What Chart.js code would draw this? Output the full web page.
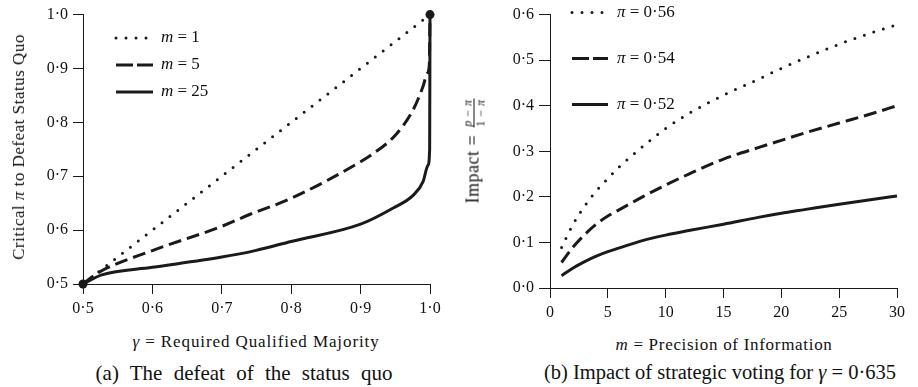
<!DOCTYPE html>
<html lang="en">
<head>
<meta charset="UTF-8" />
<title>Critical pi and impact of strategic voting</title>
<script src="https://cdn.jsdelivr.net/npm/chart.js"></script>
<style>
  body { margin: 0; width: 918px; height: 387px; background: #fff; font-family: "Liberation Serif", serif; color: #111; position: relative; overflow: hidden; }
  .box { position: absolute; top: 0; height: 330px; }
  .txt { position: absolute; white-space: nowrap; transform: translate(-50%, -50%); font-size: 17px; letter-spacing: 0.5px; pointer-events: none; }
  .rot { transform: translate(-50%, -50%) rotate(-90deg); }
  .cap { font-size: 21px; letter-spacing: 0; }
  .frac { display: inline-block; vertical-align: middle; text-align: center; font-size: 12px; line-height: 1; letter-spacing: 0.5px; margin-left: 2px; }
  .frac span { display: block; padding: 0 1px; }
  .frac .num { border-bottom: 1px solid #111; }
</style>
</head>
<body>
<div class="box" style="left:0;width:460px"><canvas id="left"></canvas></div>
<div class="box" style="left:460px;width:458px"><canvas id="right"></canvas></div>

<div class="txt rot" style="left:19px;top:147px">Critical <i>π</i> to Defeat Status Quo</div>
<div class="txt" style="left:256px;top:342px;letter-spacing:0.9px"><i>γ</i> = Required Qualified Majority</div>
<div class="txt cap" style="left:244px;top:373px;word-spacing:6px">(a) The defeat of the status quo</div>

<div class="txt rot" style="left:474px;top:151px;font-size:18px">Impact = <span class="frac"><span class="num"><i>p</i> − <i>π</i></span><span>1 − <i>π</i></span></span></div>
<div class="txt" style="left:724px;top:345px;letter-spacing:0.7px"><i>m</i> = Precision of Information</div>
<div class="txt cap" style="left:720px;top:372px;font-size:20.5px">(b) Impact of strategic voting for <i>γ</i> = 0·635</div>

<script>
  // (a) critical pi against required majority gamma
  const gammaM1 = [0.5, 1.0];
  const piM1 = [0.5, 1.0];
  const gammaM5 = [0.5, 0.522, 0.6, 0.7, 0.74, 0.8, 0.9, 0.918, 0.95, 0.976, 0.99, 0.996, 0.999, 1.0];
  const piM5 = [0.5, 0.521, 0.562, 0.607, 0.629, 0.659, 0.727, 0.742, 0.776, 0.824, 0.867, 0.891, 0.906, 1.0];
  const gammaM25 = [0.5, 0.527, 0.6, 0.7, 0.748, 0.8, 0.9, 0.947, 0.976, 0.99, 0.997, 0.9995, 1.0];
  const piM25 = [0.5, 0.517, 0.531, 0.55, 0.562, 0.579, 0.611, 0.641, 0.665, 0.69, 0.72, 0.75, 1.0];
  const endGamma = [0.5, 1.0];
  const endPi = [0.5, 1.0];
  const leftLabels = ['m = 1', 'm = 5', 'm = 25'];

  // (b) impact against precision m
  const precision = [1, 2, 3, 4, 5, 6, 8, 10, 12, 15, 18, 20, 22, 25, 28, 30];
  const impact56 = [0.089, 0.14, 0.18, 0.213, 0.24, 0.266, 0.31, 0.35, 0.383, 0.423, 0.458, 0.482, 0.504, 0.535, 0.562, 0.578];
  const impact54 = [0.056, 0.09, 0.117, 0.14, 0.158, 0.172, 0.20, 0.226, 0.25, 0.283, 0.308, 0.324, 0.34, 0.362, 0.384, 0.40];
  const impact52 = [0.027, 0.044, 0.058, 0.07, 0.08, 0.088, 0.104, 0.116, 0.126, 0.14, 0.155, 0.164, 0.172, 0.184, 0.195, 0.202];
  const rightLabels = ['π = 0·56', 'π = 0·54', 'π = 0·52'];

  const ink = '#1a1a1a';
  const font = 'Liberation Serif';
  const pts = (xs, ys) => xs.map((x, i) => ({ x, y: ys[i] }));
  const fmt1 = v => v.toFixed(1).replace('.', '·');

  const styles = [
    { borderDash: [0, 10], borderCapStyle: 'round' },
    { borderDash: [13, 6], borderCapStyle: 'butt' },
    { borderDash: [], borderCapStyle: 'butt' }
  ];
  const legendDash = [[0, 10], [17, 4], []];

  function curve(label, data, i) {
    return Object.assign({
      label, data, showLine: true, borderColor: ink, borderWidth: 3,
      pointRadius: 0, cubicInterpolationMode: 'monotone', clip: false
    }, styles[i]);
  }

  const insideLegend = {
    id: 'insideLegend',
    afterDatasetsDraw(chart, args, opts) {
      const ctx = chart.ctx;
      chart.data.datasets.forEach((ds, i) => {
        if (!ds.label) return;
        const y = opts.y + i * opts.gap;
        ctx.save();
        ctx.strokeStyle = ds.borderColor;
        ctx.lineWidth = ds.borderWidth;
        ctx.lineCap = ds.borderCapStyle;
        ctx.setLineDash(legendDash[i]);
        ctx.beginPath();
        ctx.moveTo(opts.x, y);
        ctx.lineTo(opts.x + opts.len, y);
        ctx.stroke();
        ctx.setLineDash([]);
        ctx.fillStyle = '#111';
        ctx.textBaseline = 'middle';
        let tx = opts.x + opts.len + opts.pad;
        ctx.font = 'italic 17px "' + font + '"';
        ctx.fillText(ds.label[0], tx, y);
        tx += ctx.measureText(ds.label[0]).width;
        ctx.font = '17px "' + font + '"';
        ctx.fillText(ds.label.slice(1), tx, y);
        ctx.restore();
      });
    }
  };

  function axis(min, max, step, fmt, size, tick) {
    return {
      type: 'linear', min, max,
      afterFit: s => { if (s.isHorizontal()) s.height = size; else s.width = size; },
      border: { color: ink, width: 1 },
      grid: { drawOnChartArea: false, tickLength: tick, color: ink },
      ticks: { stepSize: step, padding: 5, color: '#111', maxRotation: 0, font: { family: font, size: 16 }, callback: fmt }
    };
  }

  new Chart(document.getElementById('left'), {
    type: 'scatter',
    data: {
      datasets: [
        curve(leftLabels[0], pts(gammaM1, piM1), 0),
        curve(leftLabels[1], pts(gammaM5, piM5), 1),
        curve(leftLabels[2], pts(gammaM25, piM25), 2),
        { data: pts(endGamma, endPi), pointRadius: 4.5, pointBackgroundColor: ink, pointBorderWidth: 0, clip: false }
      ]
    },
    options: {
      responsive: true, maintainAspectRatio: false, animation: false, events: [],
      layout: { padding: { top: 10, right: 30, left: 0, bottom: 0 } },
      scales: {
        x: axis(0.5, 1.0, 0.1, fmt1, 46, 10),
        y: axis(0.5, 1.0, 0.1, fmt1, 83, 10)
      },
      plugins: {
        legend: { display: false }, tooltip: { enabled: false },
        insideLegend: { x: 116, y: 38, gap: 27, len: 37, pad: 8 }
      }
    },
    plugins: [insideLegend]
  });

  new Chart(document.getElementById('right'), {
    type: 'scatter',
    data: {
      datasets: [
        curve(rightLabels[0], pts(precision, impact56), 0),
        curve(rightLabels[1], pts(precision, impact54), 1),
        curve(rightLabels[2], pts(precision, impact52), 2)
      ]
    },
    options: {
      responsive: true, maintainAspectRatio: false, animation: false, events: [],
      layout: { padding: { top: 12, right: 21, left: 0, bottom: 0 } },
      scales: {
        x: axis(0, 30, 5, v => String(v), 42, 10),
        y: axis(0, 0.6, 0.1, fmt1, 90, 11)
      },
      plugins: {
        legend: { display: false }, tooltip: { enabled: false },
        insideLegend: { x: 112, y: 12.5, gap: 46, len: 36, pad: 9 }
      }
    },
    plugins: [insideLegend]
  });
</script>
</body>
</html>
